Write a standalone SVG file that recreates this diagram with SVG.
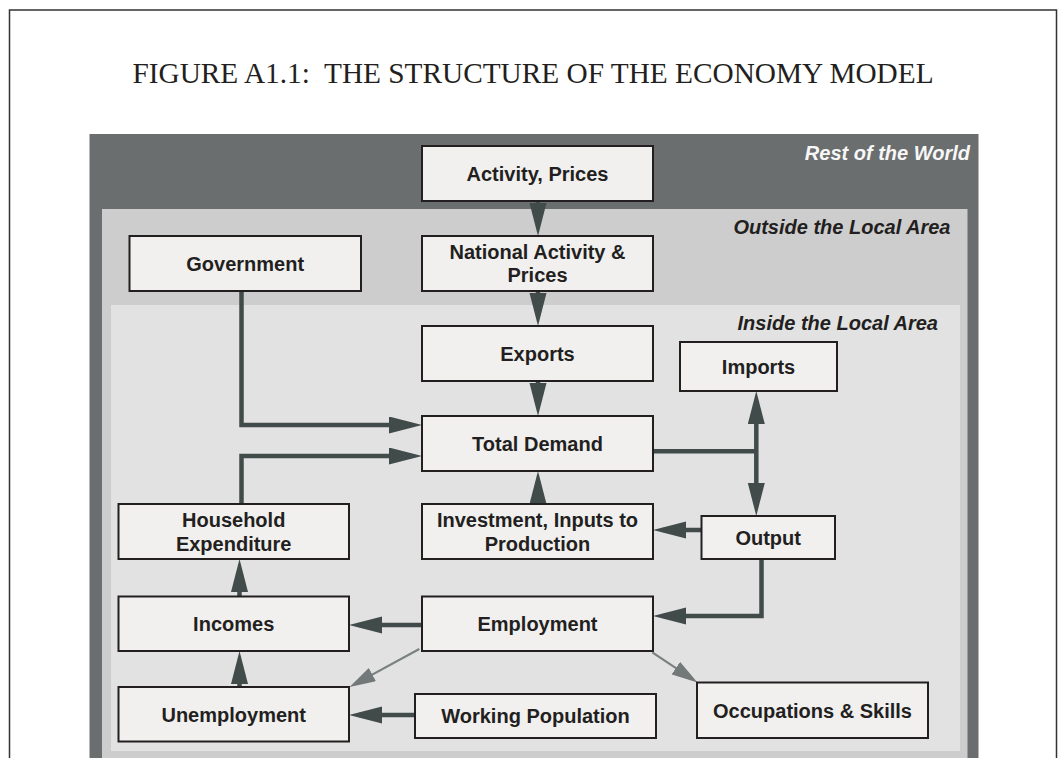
<svg xmlns="http://www.w3.org/2000/svg" width="1061" height="758" viewBox="0 0 1061 758">
<style>
.node rect{fill:#f1f0ef;stroke:#231f20;stroke-width:2}
.node text{font-family:"Liberation Sans",Arial,sans-serif;font-weight:bold;font-size:20px;fill:#231f20;text-anchor:middle}
.zone{font-family:"Liberation Sans",Arial,sans-serif;font-weight:bold;font-style:italic;font-size:20px;text-anchor:end}
.c{fill:none;stroke:#414b4a;stroke-width:4.5}
.g{fill:none;stroke:#7b8080;stroke-width:2.2}
</style>
<defs>
<marker id="ah" markerUnits="userSpaceOnUse" markerWidth="34" markerHeight="18" refX="23" refY="8.5" orient="auto-start-reverse" viewBox="0 0 34 18">
<path d="M0,0 L33,8.5 L0,17 z" fill="#414b4a"/>
</marker>
<marker id="gh" markerUnits="userSpaceOnUse" markerWidth="27" markerHeight="16" refX="20" refY="7.5" orient="auto" viewBox="0 0 27 16">
<path d="M0,0 L26,7.5 L0,15 z" fill="#737878"/>
</marker>
</defs>
<rect x="0" y="0" width="1061" height="758" fill="#ffffff"/>
<rect x="9.5" y="10" width="1047" height="800" fill="none" stroke="#333333" stroke-width="1.5"/>
<text x="533" y="83" font-family="'Liberation Serif','Times New Roman',serif" font-size="29.3" fill="#231f20" text-anchor="middle" xml:space="preserve">FIGURE A1.1:  THE STRUCTURE OF THE ECONOMY MODEL</text>
<g id="zones">
<rect x="89.5" y="134" width="889" height="700" fill="#6a6e6e"/>
<rect x="102" y="209" width="865.5" height="600" fill="#cdcdcd"/>
<rect x="111" y="305" width="849" height="446" fill="#e2e2e2"/>
<text class="zone" x="970" y="159.5" fill="#f7f7f7">Rest of the World</text>
<text class="zone" x="950.5" y="233.5" fill="#231f20">Outside the Local Area</text>
<text class="zone" x="938" y="329.5" fill="#231f20">Inside the Local Area</text>
</g>
<g id="connectors">
<path class="c" d="M538,201 V226" marker-end="url(#ah)"/>
<path class="c" d="M538,291 V316" marker-end="url(#ah)"/>
<path class="c" d="M538,381 V406" marker-end="url(#ah)"/>
<path class="c" d="M538,504 V481" marker-end="url(#ah)"/>
<path class="c" d="M241.5,291 V425 H412" marker-end="url(#ah)"/>
<path class="c" d="M241.5,504 V456 H412" marker-end="url(#ah)"/>
<path class="c" d="M653,451.3 H756.3"/>
<path class="c" d="M756.3,401 V506" marker-start="url(#ah)" marker-end="url(#ah)"/>
<path class="c" d="M701.5,530 H663" marker-end="url(#ah)"/>
<path class="c" d="M761.5,559 V616 H663" marker-end="url(#ah)"/>
<path class="c" d="M422,625 H359" marker-end="url(#ah)"/>
<path class="c" d="M415,715 H359" marker-end="url(#ah)"/>
<path class="c" d="M239.5,596.5 V569" marker-end="url(#ah)"/>
<path class="c" d="M239.5,687 V661" marker-end="url(#ah)"/>
<path class="g" d="M419.3,649 L354.8,684.1" marker-end="url(#gh)"/>
<path class="g" d="M652.3,652.3 L692.5,679.2" marker-end="url(#gh)"/>
</g>
<g id="activity-prices" class="node"><rect x="422" y="146" width="231" height="55"/><text x="537.5" y="180.5">Activity, Prices</text></g>
<g id="national-activity" class="node"><rect x="422" y="236" width="231" height="55"/><text x="537.5" y="259">National Activity &amp;</text><text x="537.5" y="282">Prices</text></g>
<g id="government" class="node"><rect x="129.5" y="236" width="231.5" height="55"/><text x="245.2" y="270.5">Government</text></g>
<g id="exports" class="node"><rect x="422" y="326" width="231" height="55"/><text x="537.5" y="360.5">Exports</text></g>
<g id="imports" class="node"><rect x="680" y="342" width="157" height="49"/><text x="758.5" y="373.5">Imports</text></g>
<g id="total-demand" class="node"><rect x="422" y="416" width="231" height="55"/><text x="537.5" y="450.5">Total Demand</text></g>
<g id="household-expenditure" class="node"><rect x="118.5" y="504" width="230.5" height="55"/><text x="233.7" y="526.7">Household</text><text x="233.7" y="550.7">Expenditure</text></g>
<g id="investment" class="node"><rect x="422" y="504" width="231" height="55"/><text x="537.5" y="526.7">Investment, Inputs to</text><text x="537.5" y="550.7">Production</text></g>
<g id="output" class="node"><rect x="701.5" y="516" width="133.5" height="43"/><text x="768.2" y="544.5">Output</text></g>
<g id="incomes" class="node"><rect x="118.5" y="596.5" width="230.5" height="54.5"/><text x="233.7" y="631">Incomes</text></g>
<g id="employment" class="node"><rect x="422" y="596.5" width="231" height="54.5"/><text x="537.5" y="631">Employment</text></g>
<g id="unemployment" class="node"><rect x="118.5" y="687" width="230.5" height="54.5"/><text x="233.7" y="721.5">Unemployment</text></g>
<g id="working-population" class="node"><rect x="415" y="694" width="241" height="44"/><text x="535.5" y="723">Working Population</text></g>
<g id="occupations-skills" class="node"><rect x="697" y="682.5" width="231" height="55.5"/><text x="812.5" y="717.5">Occupations &amp; Skills</text></g>
</svg>
